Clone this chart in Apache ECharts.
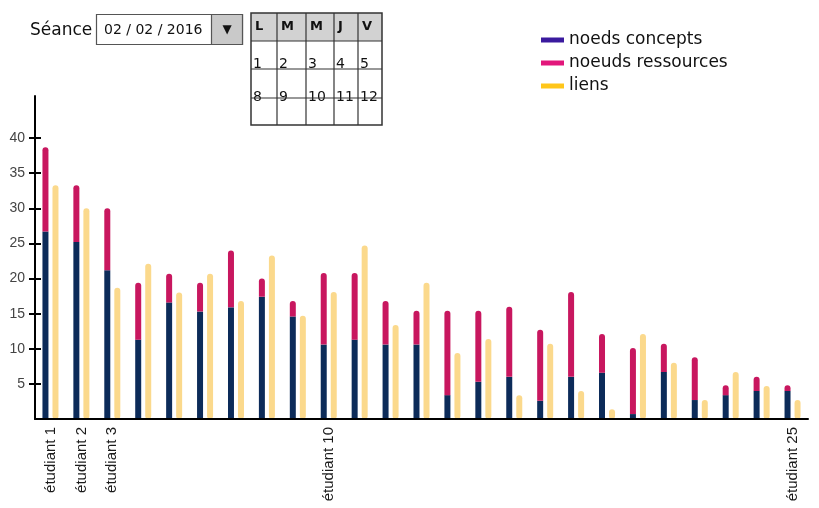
<!DOCTYPE html>
<html>
<head>
<meta charset="utf-8">
<script src="https://cdn.jsdelivr.net/npm/echarts@6/dist/echarts.min.js"></script>
<style>html,body{margin:0;padding:0;background:#fff}#c{width:819px;height:508px}</style>
</head>
<body>
<div id="c"></div>
<script>
const categories = ['étudiant 1','étudiant 2','étudiant 3','étudiant 4','étudiant 5','étudiant 6','étudiant 7','étudiant 8','étudiant 9','étudiant 10','étudiant 11','étudiant 12','étudiant 13','étudiant 14','étudiant 15','étudiant 16','étudiant 17','étudiant 18','étudiant 19','étudiant 20','étudiant 21','étudiant 22','étudiant 23','étudiant 24','étudiant 25'];
const labelledCategories = ['étudiant 1','étudiant 2','étudiant 3','étudiant 10','étudiant 25'];
const noedsConcepts = [26.7,25.2,21.2,11.3,16.6,15.3,15.9,17.4,14.6,10.6,11.3,10.6,10.6,3.4,5.3,6.0,2.6,6.0,6.6,0.7,6.7,2.7,3.4,4.0,4.0];
const noeudsRessources = [12.0,8.1,8.8,8.1,4.1,4.1,8.1,2.6,2.2,10.2,9.5,6.2,4.8,12.0,10.1,10.0,10.1,12.1,5.5,9.4,4.0,6.1,1.4,2.0,0.8];
const liens = [33.3,30.0,18.7,22.1,18.0,20.7,16.8,23.3,14.7,18.1,24.7,13.4,19.4,9.4,11.4,3.4,10.7,4.0,1.4,12.1,8.0,2.7,6.7,4.7,2.7];
const yTickValues = [5,10,15,20,25,30,35,40];
const seriesNames = ['noeds concepts','noeuds ressources','liens'];
const weekDays = ['L','M','M','J','V'];
const week1 = ['1','2','3','4','5'];
const week2 = ['8','9','10','11','12'];

const chart = echarts.init(document.getElementById('c'), null, {renderer:'canvas'});
const uiFont = '"DejaVu Sans", sans-serif';

// calendar graphic (UI mock-up)
const colX = [251, 277, 306, 334, 358, 382];
const rowY = [13, 41, 69, 98, 125];
const cal = [];
cal.push({type:'rect', shape:{x:colX[0], y:rowY[0], width:colX[5]-colX[0], height:rowY[1]-rowY[0]}, style:{fill:'#d2d2d2', stroke:null}});
cal.push({type:'rect', shape:{x:colX[0], y:rowY[0], width:colX[5]-colX[0], height:rowY[4]-rowY[0]}, style:{fill:null, stroke:'#333', lineWidth:1.5}});
for (let i=1;i<5;i++) cal.push({type:'line', shape:{x1:colX[i], y1:rowY[0], x2:colX[i], y2:rowY[4]}, style:{stroke:'#333', lineWidth:1.2}});
for (let j=1;j<4;j++) cal.push({type:'line', shape:{x1:colX[0], y1:rowY[j], x2:colX[5], y2:rowY[j]}, style:{stroke:'#333', lineWidth:1.2}});
weekDays.forEach((d,i)=>cal.push({type:'text', x:colX[i]+4, y:27, style:{text:d, fill:'#111', font:'bold 13px '+uiFont, textVerticalAlign:'middle'}}));
week1.forEach((d,i)=>cal.push({type:'text', x:colX[i]+2, y:64, style:{text:d, fill:'#111', font:'14px '+uiFont, textVerticalAlign:'middle'}, z:-1}));
week2.forEach((d,i)=>cal.push({type:'text', x:colX[i]+2, y:97, style:{text:d, fill:'#111', font:'14px '+uiFont, textVerticalAlign:'middle'}, z:-1}));

const option = {
  animation:false,
  backgroundColor:'#fff',
  grid:{left:35, right:11, top:96, bottom:89, containLabel:false},
  legend:{
    orient:'vertical', left:536, top:26, itemWidth:23, itemHeight:5, itemGap:5, icon:'rect',
    textStyle:{fontSize:17, lineHeight:18, color:'#111', fontFamily:uiFont},
    data:[
      {name:seriesNames[0], itemStyle:{color:'#3a1a9e'}},
      {name:seriesNames[1], itemStyle:{color:'#e2177b'}},
      {name:seriesNames[2], itemStyle:{color:'#ffc61a'}}
    ]
  },
  xAxis:{
    type:'category', data:categories, z:5,
    axisLine:{lineStyle:{color:'#000', width:2}},
    axisTick:{show:false},
    axisLabel:{rotate:90, interval:0, margin:8, fontSize:15, color:'#1a1a1a', fontFamily:'"Liberation Sans", Arial, sans-serif',
      formatter:v=>labelledCategories.includes(v)?v:''}
  },
  yAxis:[
    {type:'value', min:0, max:46, position:'left', z:5,
      axisLine:{show:true, lineStyle:{color:'#000', width:2}},
      axisTick:{show:true, length:6, customValues:yTickValues, lineStyle:{color:'#000', width:2}},
      axisLabel:{customValues:yTickValues, margin:10, fontSize:14, color:'#444', fontFamily:'"Liberation Sans", Arial, sans-serif'},
      splitLine:{show:false}},
    {type:'value', min:0, max:46, position:'left', z:5,
      axisLine:{show:false},
      axisTick:{show:true, inside:true, length:6, customValues:yTickValues, lineStyle:{color:'#000', width:2}},
      axisLabel:{show:false}, splitLine:{show:false}}
  ],
  series:[
    {name:seriesNames[0], type:'bar', stack:'noeuds', data:noedsConcepts, barWidth:6, barGap:'67%',
      itemStyle:{color:'#0c2b59'}},
    {name:seriesNames[1], type:'bar', stack:'noeuds', data:noeudsRessources, barWidth:6, barGap:'67%',
      itemStyle:{color:'#c8175f', borderRadius:[3,3,0,0]}},
    {name:seriesNames[2], type:'bar', data:liens, barWidth:6, barGap:'67%',
      itemStyle:{color:'#fbd98c', borderRadius:3}}
  ],
  graphic:[
    {type:'text', x:30, y:31, style:{text:'Séance', fill:'#111', font:'17px '+uiFont, textVerticalAlign:'middle'}},
    {type:'rect', shape:{x:96.5, y:14.5, width:146, height:30}, style:{fill:'#fff', stroke:'#555', lineWidth:1.2}},
    {type:'rect', shape:{x:211.5, y:14.5, width:31, height:30}, style:{fill:'#c9c9c9', stroke:'#555', lineWidth:1.2}},
    {type:'text', x:227, y:30, style:{text:'▼', fill:'#111', font:'12px '+uiFont, textAlign:'center', textVerticalAlign:'middle'}},
    {type:'text', x:104, y:30, style:{text:'02 / 02 / 2016', fill:'#111', font:'14px '+uiFont, textVerticalAlign:'middle'}},
    {type:'group', children:cal}
  ]
};
chart.setOption(option);
</script>
</body>
</html>
